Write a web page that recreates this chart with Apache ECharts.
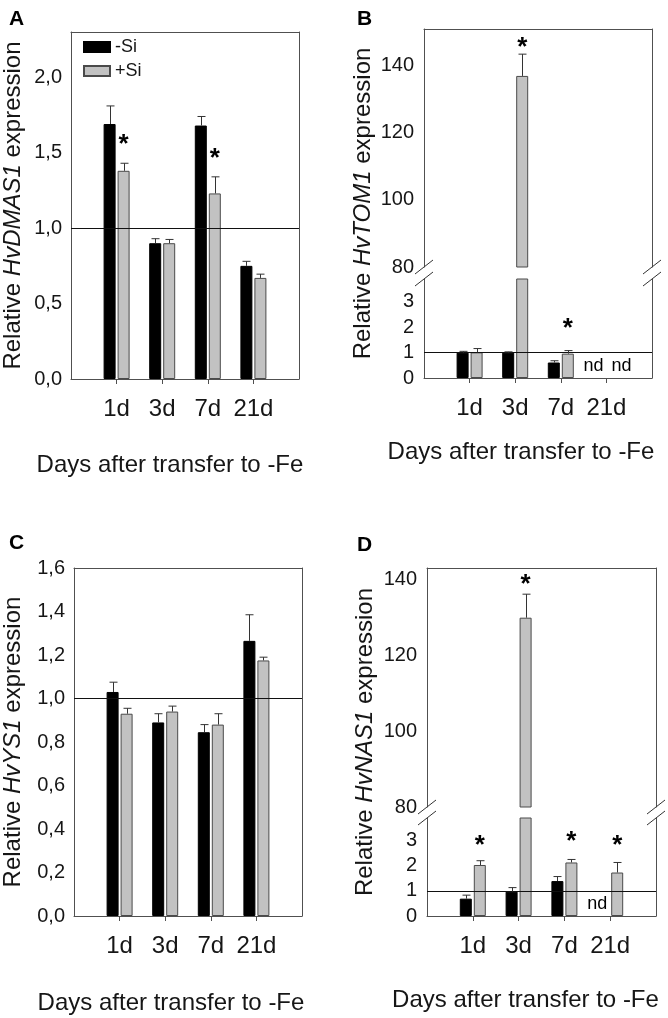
<!DOCTYPE html>
<html><head><meta charset="utf-8">
<script src="https://cdn.jsdelivr.net/npm/echarts@6/dist/echarts.min.js"></script>
<style>html,body{margin:0;padding:0;background:#fff}#c{width:668px;height:1018px}</style>
</head><body><div id="c"></div><script>
// ---------- DATA ----------
const days = ['1d', '3d', '7d', '21d'];
const seriesNames = ['-Si', '+Si'];
const xTitle = 'Days after transfer to -Fe';

// A: HvDMAS1
const dmas1Minus = [1.69, 0.90, 1.68, 0.75];
const dmas1MinusErr = [0.12, 0.03, 0.06, 0.03];
const dmas1Plus = [1.38, 0.90, 1.23, 0.67];
const dmas1PlusErr = [0.05, 0.025, 0.11, 0.025];
const dmas1StarPlus = [1.59, null, 1.50, null];
const dmas1Ticks = [0, 0.5, 1.0, 1.5, 2.0];

// B: HvTOM1 (null = nd)
const tom1Minus = [1.00, 1.00, 0.61, null];
const tom1MinusErr = [0.05, 0.03, 0.07, null];
const tom1Plus = [1.01, 137.0, 0.96, null];
const tom1PlusErr = [0.15, 6.5, 0.12, null];
const tom1StarPlus = [null, 147, 2.16, null];
const tom1TicksLow = [0, 1, 2, 3];
const tom1TicksHigh = [80, 100, 120, 140];

// C: HvYS1
const ys1Minus = [1.03, 0.89, 0.845, 1.265];
const ys1MinusErr = [0.045, 0.04, 0.035, 0.12];
const ys1Plus = [0.93, 0.94, 0.88, 1.175];
const ys1PlusErr = [0.025, 0.025, 0.05, 0.015];
const ys1StarPlus = [null, null, null, null];
const ys1Ticks = [0, 0.2, 0.4, 0.6, 0.8, 1.0, 1.2, 1.4, 1.6];

// D: HvNAS1 (null = nd)
const nas1Minus = [0.69, 0.97, 1.39, null];
const nas1MinusErr = [0.14, 0.16, 0.18, null];
const nas1Plus = [2.03, 129.9, 2.13, 1.73];
const nas1PlusErr = [0.17, 6.2, 0.12, 0.40];
const nas1StarPlus = [3.04, 140, 3.17, 3.04];
const nas1TicksLow = [0, 1, 2, 3];
const nas1TicksHigh = [80, 100, 120, 140];

// ---------- STYLE ----------
const FONT = '"Liberation Sans", Arial, Helvetica, sans-serif';
const FRAME = '#505050';
const TXT = '#161616';
const BW = 12, BG = 2, OFF = (BW + BG) / 2, CAP = 4;
const STAR_FS = 26;
const cats = [''].concat(days, ['']);
const commaFmt = v => v.toFixed(1).replace('.', ',');
const intFmt = v => String(v);

const option = {
  backgroundColor: '#fff', animation: false,
  title: [], grid: [], xAxis: [], yAxis: [], series: [], graphic: [],
  legend: {
    data: seriesNames, orient: 'vertical', left: 83, top: 38, icon: 'rect',
    itemWidth: 26, itemHeight: 10, itemGap: 6, selectedMode: false,
    textStyle: { fontSize: 18, fontFamily: FONT, color: TXT }, padding: 0
  }
};

function push(arr, o) { arr.push(o); return arr.length - 1; }
const lineOnly = { show: true, onZero: false, lineStyle: { color: FRAME, width: 1 } };

function panel(cfg) {
  option.title.push({ text: cfg.letter, left: cfg.letterPos[0], top: cfg.letterPos[1],
    textStyle: { fontSize: 21, fontWeight: 'bold', fontFamily: FONT, color: '#000' } });
  const nSeg = cfg.segments.length;
  const yNameObj = {
    name: 'Relative {i|' + cfg.gene + '} expression', nameLocation: 'middle', nameGap: cfg.yNameGap,
    nameTextStyle: { fontSize: 24, fontFamily: FONT, color: TXT,
      rich: { i: { fontStyle: 'italic', fontSize: 24, fontFamily: FONT, color: TXT } } }
  };
  cfg.segments.forEach((s, si) => {
    const isTop = si === 0, isBottom = si === nSeg - 1;
    const gi = push(option.grid, { left: cfg.left, top: s.top, width: cfg.width, height: s.height,
      outerBoundsMode: 'none', containLabel: false });
    const xi = push(option.xAxis, Object.assign({
      gridIndex: gi, type: 'category', data: cats, boundaryGap: false,
      position: isBottom ? 'bottom' : 'top',
      axisLine: lineOnly,
      axisTick: { show: isBottom, length: 5, interval: (i, v) => v !== '', lineStyle: { color: FRAME } },
      axisLabel: { show: isBottom, interval: 0, margin: 18, fontSize: 24, fontFamily: FONT, color: TXT },
      splitLine: { show: false }
    }, isBottom ? { name: xTitle, nameLocation: 'middle', nameGap: cfg.xNameGap,
      nameTextStyle: { fontSize: 24, fontFamily: FONT, color: TXT, padding: [0, 2 * cfg.xNameShift, 0, 0] } } : {}));
    if (isTop && isBottom) {
      push(option.xAxis, { gridIndex: gi, type: 'category', data: cats, boundaryGap: false, position: 'top',
        axisLine: lineOnly, axisTick: { show: false },
        axisLabel: { show: false }, splitLine: { show: false } });
    }
    const yi = push(option.yAxis, Object.assign({
      gridIndex: gi, type: 'value', min: s.min, max: s.max, position: 'left',
      axisLine: lineOnly, axisTick: { show: false },
      splitLine: { show: false },
      axisLabel: { customValues: s.ticks, formatter: cfg.fmt, margin: cfg.labelMargin, fontSize: 20, fontFamily: FONT, color: TXT }
    }, nSeg === 1 ? yNameObj : {}));
    push(option.yAxis, { gridIndex: gi, type: 'value', min: s.min, max: s.max, position: 'right',
      axisLine: lineOnly, axisTick: { show: false },
      axisLabel: { show: false }, splitLine: { show: false } });

    const inSeg = v => v != null && v >= s.min && v <= s.max;
    const barData = arr => ['-'].concat(arr.map(v => (v == null || (s.min > 0 && v < s.min)) ? '-' : v), ['-']);
    push(option.series, { type: 'bar', name: seriesNames[0], xAxisIndex: xi, yAxisIndex: yi,
      data: barData(cfg.minus), barWidth: BW, barGap: (BG / BW * 100) + '%',
      itemStyle: { color: '#000', borderColor: '#000', borderWidth: 1 } });
    push(option.series, { type: 'bar', name: seriesNames[1], xAxisIndex: xi, yAxisIndex: yi,
      data: barData(cfg.plus), barWidth: BW, barGap: (BG / BW * 100) + '%',
      itemStyle: { color: '#c2c2c2', borderColor: '#4a4a4a', borderWidth: 1 } });

    // error bars
    const errItems = [];
    [[cfg.minus, cfg.minusErr, -1], [cfg.plus, cfg.plusErr, 1]].forEach(([vals, errs, side]) => {
      vals.forEach((v, i) => { if (inSeg(v)) errItems.push([i + 1, v, errs[i], side]); });
    });
    const errSeries = { type: 'custom', xAxisIndex: xi, yAxisIndex: yi, z: 5, data: errItems, clip: false,
      renderItem: (p, api) => {
        const idx = api.value(0), v = api.value(1), e = api.value(2), side = api.value(3);
        const p0 = api.coord([idx, v]), p1 = api.coord([idx, v + e]);
        const x = Math.round(p0[0] + side * OFF) + 0.5;
        return { type: 'group', children: [
          { type: 'line', shape: { x1: x, y1: p0[1], x2: x, y2: p1[1] }, style: { stroke: '#333', lineWidth: 1 } },
          { type: 'line', shape: { x1: x - CAP, y1: p1[1], x2: x + CAP, y2: p1[1] }, style: { stroke: '#333', lineWidth: 1 } }
        ] };
      } };
    if (s.min <= 1 && s.max >= 1) {
      errSeries.markLine = { silent: true, symbol: 'none', label: { show: false },
        lineStyle: { color: '#111', type: 'solid', width: 1 }, data: [{ yAxis: 1 }] };
    }
    push(option.series, errSeries);

    // stars and nd labels
    const txtItems = [];
    cfg.starPlus.forEach((y, i) => { if (inSeg(y)) txtItems.push([i + 1, y, OFF, '*']); });
    if (s.min === 0) {
      cfg.minus.forEach((v, i) => { if (v == null) txtItems.push([i + 1, cfg.ndY, -(OFF + 6), 'nd']); });
      cfg.plus.forEach((v, i) => { if (v == null) txtItems.push([i + 1, cfg.ndY, OFF + 8, 'nd']); });
    }
    push(option.series, { type: 'custom', xAxisIndex: xi, yAxisIndex: yi, z: 6, clip: false,
      data: txtItems.map(d => d.slice(0, 3)),
      renderItem: (p, api) => {
        const d = txtItems[p.dataIndex];
        const c = api.coord([d[0], d[1]]);
        const isStar = d[3] === '*';
        return { type: 'text', x: c[0] + d[2], y: c[1] + (isStar ? 0.22 * STAR_FS : 0),
          style: { text: d[3], fill: '#000', align: 'center', verticalAlign: 'middle',
            fontSize: isStar ? STAR_FS : 18, fontWeight: isStar ? 'bold' : 'normal', fontFamily: FONT } };
      } });
  });

  if (nSeg > 1) {
    const top = cfg.segments[0].top;
    const last = cfg.segments[nSeg - 1];
    const gi = push(option.grid, { left: cfg.left, top: top, width: cfg.width, height: last.top + last.height - top,
      outerBoundsMode: 'none', containLabel: false });
    push(option.xAxis, { gridIndex: gi, type: 'value', min: 0, max: 1, show: false });
    push(option.yAxis, Object.assign({ gridIndex: gi, type: 'value', min: 0, max: 1,
      axisLine: { show: false }, axisTick: { show: false }, axisLabel: { show: false }, splitLine: { show: false } }, yNameObj));
    // break marks
    const yb = [cfg.segments[0].top + cfg.segments[0].height, cfg.segments[1].top];
    [cfg.left, cfg.left + cfg.width].forEach(x => {
      yb.forEach(y => {
        option.graphic.push({ type: 'line', z: 10,
          shape: { x1: x - 9, y1: y + 7, x2: x + 9, y2: y - 7 }, style: { stroke: '#333', lineWidth: 1 } });
      });
    });
  }
}

panel({ letter: 'A', letterPos: [4, 4], gene: 'HvDMAS1', left: 71, width: 228,
  segments: [{ top: 32, height: 347, min: 0, max: 2.3, ticks: dmas1Ticks }],
  yNameGap: 46, xNameGap: 74, xNameShift: 15, labelMargin: 9, fmt: commaFmt, ndY: 0.47,
  minus: dmas1Minus, minusErr: dmas1MinusErr, plus: dmas1Plus, plusErr: dmas1PlusErr, starPlus: dmas1StarPlus });

panel({ letter: 'B', letterPos: [352, 4], gene: 'HvTOM1', left: 424, width: 228,
  segments: [{ top: 29, height: 238, min: 80, max: 151, ticks: tom1TicksHigh },
             { top: 279, height: 99, min: 0, max: 3.9, ticks: tom1TicksLow }],
  yNameGap: 49, xNameGap: 62, xNameShift: 17, labelMargin: 10, fmt: intFmt, ndY: 0.47,
  minus: tom1Minus, minusErr: tom1MinusErr, plus: tom1Plus, plusErr: tom1PlusErr, starPlus: tom1StarPlus });

panel({ letter: 'C', letterPos: [4, 528], gene: 'HvYS1', left: 74, width: 228,
  segments: [{ top: 568, height: 348, min: 0, max: 1.6, ticks: ys1Ticks }],
  yNameGap: 49, xNameGap: 75, xNameShift: 17, labelMargin: 9, fmt: commaFmt, ndY: 0.47,
  minus: ys1Minus, minusErr: ys1MinusErr, plus: ys1Plus, plusErr: ys1PlusErr, starPlus: ys1StarPlus });

panel({ letter: 'D', letterPos: [352, 530], gene: 'HvNAS1', left: 427, width: 229,
  segments: [{ top: 568, height: 239, min: 80, max: 143, ticks: nas1TicksHigh },
             { top: 818, height: 98, min: 0, max: 3.9, ticks: nas1TicksLow }],
  yNameGap: 50, xNameGap: 72, xNameShift: 16, labelMargin: 10, fmt: intFmt, ndY: 0.48,
  minus: nas1Minus, minusErr: nas1MinusErr, plus: nas1Plus, plusErr: nas1PlusErr, starPlus: nas1StarPlus });

const chart = echarts.init(document.getElementById('c'), null, { renderer: 'canvas' });
chart.setOption(option);
</script></body></html>
